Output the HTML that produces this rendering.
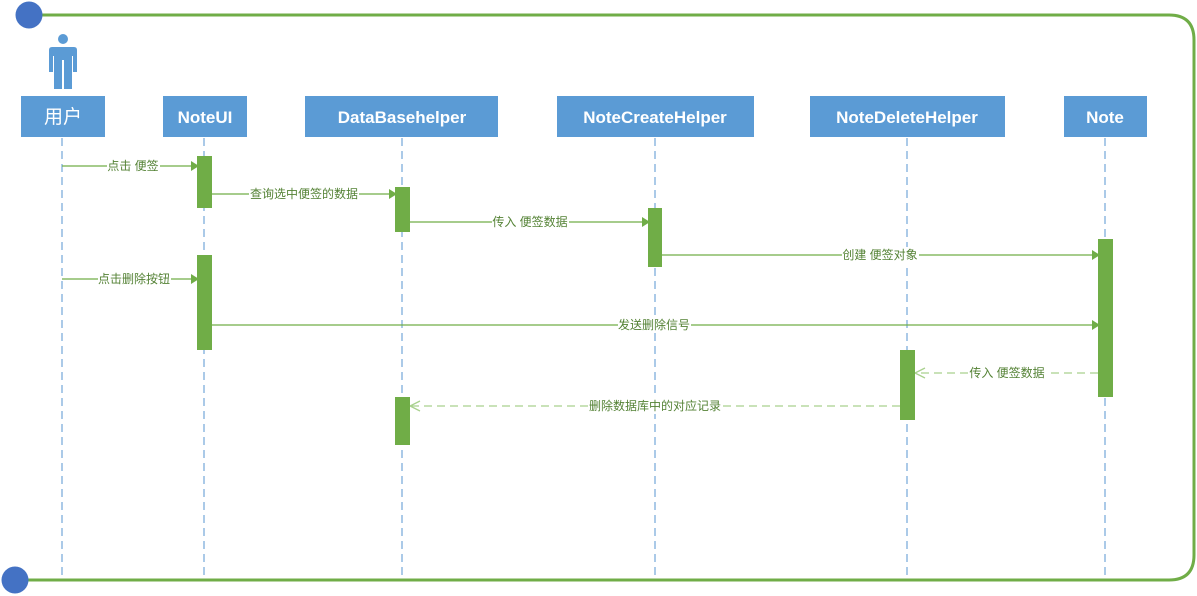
<!DOCTYPE html>
<html><head><meta charset="utf-8"><style>
html,body{margin:0;padding:0;background:#fff;width:1197px;height:596px;overflow:hidden}
svg text{font-family:"Liberation Sans","Noto Sans CJK SC",sans-serif}
</style></head><body>
<svg width="1197" height="596" viewBox="0 0 1197 596" xmlns="http://www.w3.org/2000/svg">
<path d="M29 15 H1169 Q1194 15 1194 40 V555 Q1194 580 1169 580 H15" fill="none" stroke="#70ad47" stroke-width="3"/>
<circle cx="29" cy="15" r="13.5" fill="#4472c4"/>
<circle cx="15" cy="580" r="13.5" fill="#4472c4"/>
<g fill="#5b9bd5">
<circle cx="63" cy="39" r="5"/>
<path d="M52 47 H74 Q77 47 77 50 V72 H73 V56 H72 V89 H64 V60 H62 V89 H54 V56 H53 V72 H49 V50 Q49 47 52 47 Z"/>
</g>
<g stroke="#8fb8e0" stroke-width="1.5" stroke-dasharray="8,5">
<line x1="62" y1="138" x2="62" y2="575"/>
<line x1="204" y1="138" x2="204" y2="575"/>
<line x1="402" y1="138" x2="402" y2="575"/>
<line x1="655" y1="138" x2="655" y2="575"/>
<line x1="907" y1="138" x2="907" y2="575"/>
<line x1="1105" y1="138" x2="1105" y2="575"/>
</g>
<g fill="#5b9bd5">
<rect x="21" y="96" width="84" height="41"/>
<rect x="163" y="96" width="84" height="41"/>
<rect x="305" y="96" width="193" height="41"/>
<rect x="557" y="96" width="197" height="41"/>
<rect x="810" y="96" width="195" height="41"/>
<rect x="1064" y="96" width="83" height="41"/>
</g>
<g fill="#fff" font-weight="bold" font-size="17" text-anchor="middle">
<text x="63" y="123" font-size="19" font-weight="normal">用户</text>
<text x="205" y="123">NoteUI</text>
<text x="402" y="123">DataBasehelper</text>
<text x="655" y="123">NoteCreateHelper</text>
<text x="907" y="123">NoteDeleteHelper</text>
<text x="1105" y="123">Note</text>
</g>
<g stroke="#70ad47" stroke-width="1.3" fill="none">
<line x1="62" y1="166" x2="197" y2="166"/>
<line x1="212" y1="194" x2="395" y2="194"/>
<line x1="410" y1="222" x2="648" y2="222"/>
<line x1="662" y1="255" x2="1098" y2="255"/>
<line x1="62" y1="279" x2="197" y2="279"/>
<line x1="212" y1="325" x2="1098" y2="325"/>
<line x1="1098" y1="373" x2="915" y2="373" stroke="#a9d18e" stroke-dasharray="8,5"/>
<line x1="900" y1="406" x2="410" y2="406" stroke="#a9d18e" stroke-dasharray="8,5"/>
<path d="M925 368 L915 373 L925 378" stroke="#a9d18e"/>
<path d="M420 401 L410 406 L420 411" stroke="#a9d18e"/>
</g>
<g fill="#70ad47">
<rect x="197" y="156" width="15" height="52"/>
<rect x="197" y="255" width="15" height="95"/>
<rect x="395" y="187" width="15" height="45"/>
<rect x="395" y="397" width="15" height="48"/>
<rect x="648" y="208" width="14" height="59"/>
<rect x="900" y="350" width="15" height="70"/>
<rect x="1098" y="239" width="15" height="158"/>
</g>
<g fill="#70ad47">
<path d="M191 161 L199 166 L191 171Z"/>
<path d="M389 189 L397 194 L389 199Z"/>
<path d="M642 217 L650 222 L642 227Z"/>
<path d="M1092 250 L1100 255 L1092 260Z"/>
<path d="M191 274 L199 279 L191 284Z"/>
<path d="M1092 320 L1100 325 L1092 330Z"/>
</g>
<g font-size="12" fill="#548235" text-anchor="middle">
<rect x="107" y="158" width="53" height="16" fill="#fff"/><text x="133" y="170">点击 便签</text>
<rect x="249" y="186" width="110" height="16" fill="#fff"/><text x="304" y="198">查询选中便签的数据</text>
<rect x="492" y="214" width="77" height="16" fill="#fff"/><text x="530" y="226">传入 便签数据</text>
<rect x="842" y="247" width="77" height="16" fill="#fff"/><text x="880" y="259">创建 便签对象</text>
<rect x="98" y="271" width="73" height="16" fill="#fff"/><text x="134" y="283">点击删除按钮</text>
<rect x="618" y="317" width="73" height="16" fill="#fff"/><text x="654" y="329">发送删除信号</text>
<rect x="969" y="365" width="77" height="16" fill="#fff"/><text x="1007" y="377">传入 便签数据</text>
<rect x="588" y="398" width="134" height="16" fill="#fff"/><text x="655" y="410">删除数据库中的对应记录</text>
</g>
</svg>
</body></html>
